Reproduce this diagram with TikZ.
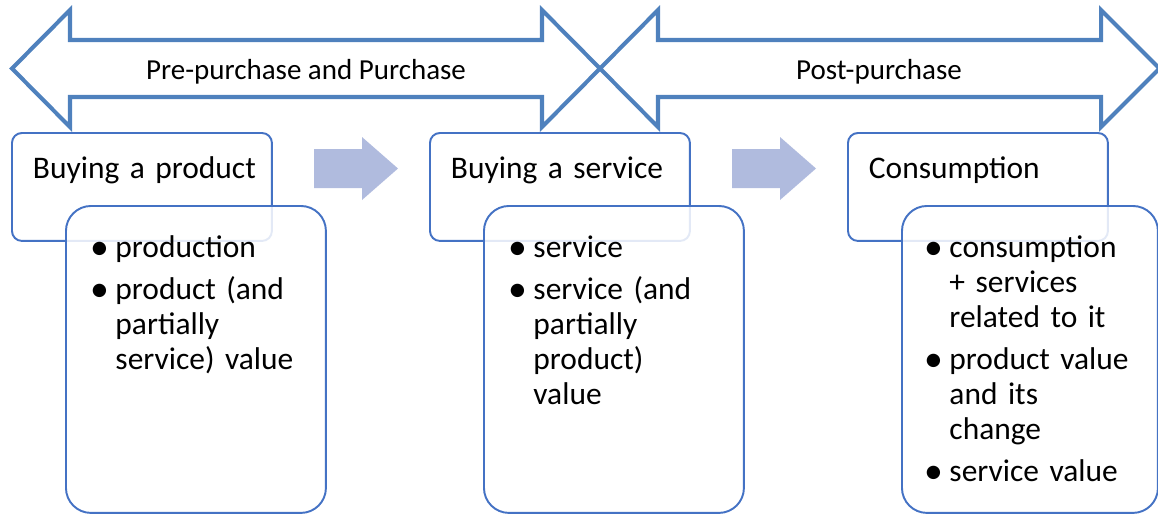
\documentclass[tikz,border=0pt]{standalone}
\usepackage{fontspec}
\setmainfont{Carlito}
\usepackage{enumitem}
\definecolor{phaseblue}{RGB}{79,129,189}
\definecolor{boxblue}{RGB}{68,114,196}
\definecolor{stepfill}{RGB}{176,187,222}
\newcommand{\phaselist}[1]{\raggedright\begin{itemize}[label=\raisebox{-0.06em}{\scalebox{1.2}{\textbullet}},leftmargin=0.48cm,labelsep=0.13cm,itemsep=0.14cm,parsep=0pt,topsep=0pt,partopsep=0pt]#1\end{itemize}}

\begin{document}
\begin{tikzpicture}[x=0.02cm, y=-0.02cm,
  phase/.style={draw=phaseblue, line width=2.3pt, line join=miter},
  phaselabel/.style={font=\fontsize{16.5}{20}\selectfont},
  titlebox/.style={draw=boxblue, line width=1.1pt, fill=white, rounded corners=0.2cm, anchor=north west,
    text width=4.36cm, minimum width=5.2cm, inner xsep=0pt, inner ysep=0pt, text height=0.92cm, text depth=1.24cm,
    align=left, font=\fontsize{17.9}{19.9}\selectfont},
  listbox/.style={draw=boxblue, line width=1.1pt, fill=white, fill opacity=0.85, text opacity=1, rounded corners=0.5cm,
    anchor=north west, text width=4.18cm, minimum width=5.2cm, inner xsep=0pt, inner ysep=0pt,
    text height=0.34cm, text depth=5.80cm, font=\fontsize{17.9}{19.9}\selectfont},
  stepfwd/.style={fill=stepfill}]
  \useasboundingbox (0,0) rectangle (1158,515);

  \draw[phase] (12,68.5) -- (70,10) -- (70,40) -- (542,40) -- (542,10) -- (600,68.5) -- (542,127) -- (542,97) -- (70,97) -- (70,127) -- cycle;
  \draw[phase] (600,68.5) -- (658,10) -- (658,40) -- (1101,40) -- (1101,10) -- (1159.5,68.5) -- (1101,127) -- (1101,97) -- (658,97) -- (658,127) -- cycle;
  \node[phaselabel] (prepurchase) at (306,72) {Pre-purchase and Purchase};
  \node[phaselabel] (postpurchase) at (879,72) {Post-purchase};

  \node[titlebox] (buyprod) at (11,132) {\mbox{Buying a product}};
  \node[titlebox] (buyserv) at (429,132) {\mbox{Buying a service}};
  \node[titlebox] (consum) at (847,132) {Consumption};

  \node[listbox] (prodlist) at (65,205) {\phaselist{\item production \item product (and partially service) value}};
  \node[listbox] (servlist) at (483,205) {\phaselist{\item service \item service (and partially product) value}};
  \node[listbox, minimum width=5.12cm] (consumlist) at (901,205) {\phaselist{\item consumption + services related to it \item product value and its change \item service value}};

  \fill[stepfwd] (314,149) -- (362,149) -- (362,137) -- (398,168.5) -- (362,200) -- (362,188) -- (314,188) -- cycle;
  \fill[stepfwd] (732,149) -- (780,149) -- (780,137) -- (816,168.5) -- (780,200) -- (780,188) -- (732,188) -- cycle;
\end{tikzpicture}
\end{document}
